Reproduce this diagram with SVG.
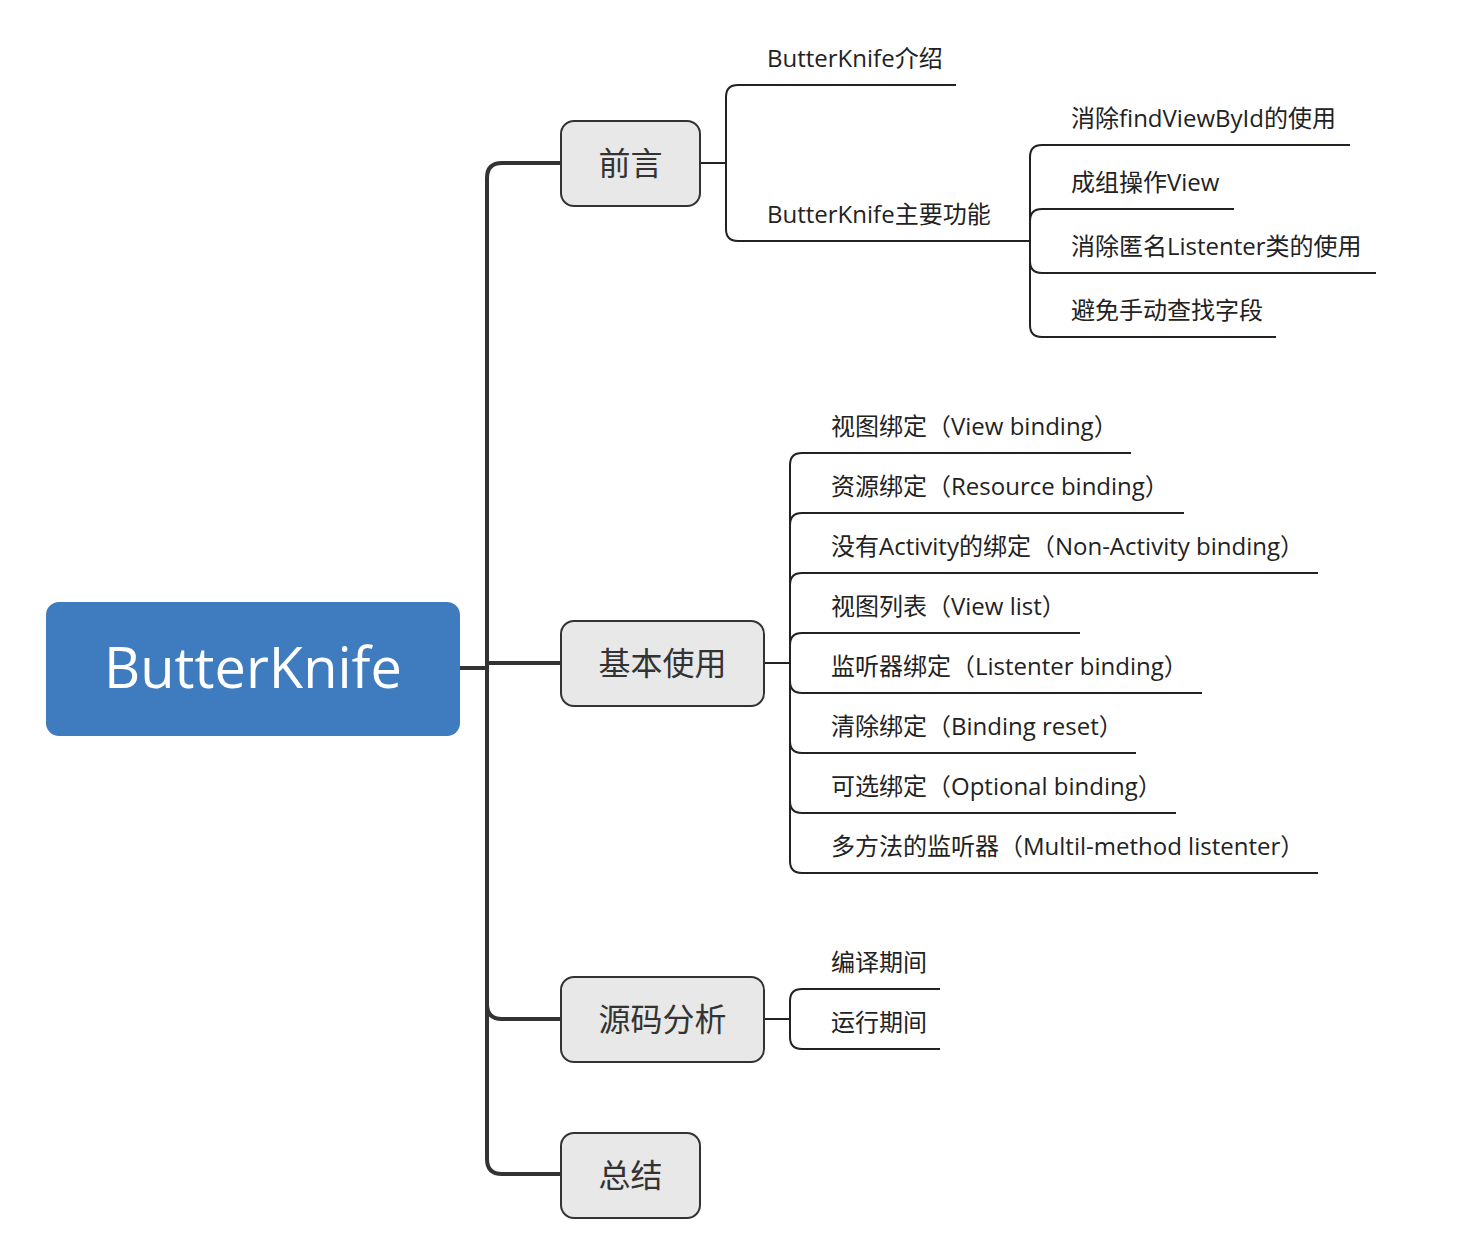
<svg xmlns="http://www.w3.org/2000/svg" width="1468" height="1242" viewBox="0 0 1468 1242">
<style>
.trunk{fill:none;stroke:#333;stroke-width:4;stroke-linejoin:round}
.leaf{fill:none;stroke:#222;stroke-width:2}
.box{fill:#E8E8E8;stroke:#333;stroke-width:2}
.bt{font-family:"Open Sans","Noto Sans CJK SC",sans-serif;font-size:32px;fill:#333;text-anchor:middle}
.lt{font-family:"Open Sans","Noto Sans CJK SC",sans-serif;font-size:24px;fill:#222}
</style>
<rect width="1468" height="1242" fill="#fff"/>
<g id="connectors">
<path class="trunk" d="M460,668 H487"/>
<path class="trunk" d="M487,668 V178 Q487,163 502,163 H561"/>
<path class="trunk" d="M487,663 H561"/>
<path class="trunk" d="M487,668 V1004 Q487,1019 502,1019 H561"/>
<path class="trunk" d="M487,668 V1159 Q487,1174 502,1174 H561"/>
<path class="leaf" d="M700,163 H726"/>
<path class="leaf" d="M726,163 V97 Q726,85 738,85 H956"/>
<path class="leaf" d="M726,163 V229 Q726,241 738,241 H1030"/>
<path class="leaf" d="M1030,241 V157 Q1030,145 1042,145 H1350"/>
<path class="leaf" d="M1030,241 V221 Q1030,209 1042,209 H1234"/>
<path class="leaf" d="M1030,241 V261 Q1030,273 1042,273 H1376"/>
<path class="leaf" d="M1030,241 V325 Q1030,337 1042,337 H1276"/>
<path class="leaf" d="M764,663 H790"/>
<path class="leaf" d="M790,663 V465 Q790,453 802,453 H1131"/>
<path class="leaf" d="M790,663 V525 Q790,513 802,513 H1184"/>
<path class="leaf" d="M790,663 V585 Q790,573 802,573 H1318"/>
<path class="leaf" d="M790,663 V645 Q790,633 802,633 H1080"/>
<path class="leaf" d="M790,663 V681 Q790,693 802,693 H1202"/>
<path class="leaf" d="M790,663 V741 Q790,753 802,753 H1136"/>
<path class="leaf" d="M790,663 V801 Q790,813 802,813 H1176"/>
<path class="leaf" d="M790,663 V861 Q790,873 802,873 H1318"/>
<path class="leaf" d="M764,1019 H790"/>
<path class="leaf" d="M790,1019 V1001 Q790,989 802,989 H940"/>
<path class="leaf" d="M790,1019 V1037 Q790,1049 802,1049 H940"/>
</g>
<g id="root">
<rect x="46" y="602" width="414" height="134" rx="13" fill="#3F7BBF"/>
<text x="253" y="688" font-family="'Open Sans',sans-serif" font-size="56" fill="#fff" text-anchor="middle">ButterKnife</text>
</g>
<g id="n-qianyan"><rect class="box" x="561" y="121" width="139" height="85" rx="13"/><text class="bt" x="630.5" y="175">前言</text></g>
<g id="n-jiben"><rect class="box" x="561" y="621" width="203" height="85" rx="13"/><text class="bt" x="662.5" y="675">基本使用</text></g>
<g id="n-yuanma"><rect class="box" x="561" y="977" width="203" height="85" rx="13"/><text class="bt" x="662.5" y="1031">源码分析</text></g>
<g id="n-zongjie"><rect class="box" x="561" y="1133" width="139" height="85" rx="13"/><text class="bt" x="630.5" y="1187">总结</text></g>
<g id="n-intro"><text class="lt" x="767" y="67">ButterKnife介绍</text></g>
<g id="n-func"><text class="lt" x="767" y="223">ButterKnife主要功能</text></g>
<g id="n-f1"><text class="lt" x="1071" y="127">消除findViewById的使用</text></g>
<g id="n-f2"><text class="lt" x="1071" y="191">成组操作View</text></g>
<g id="n-f3"><text class="lt" x="1071" y="255">消除匿名Listenter类的使用</text></g>
<g id="n-f4"><text class="lt" x="1071" y="319">避免手动查找字段</text></g>
<g id="n-b1"><text class="lt" x="831" y="435">视图绑定（View binding）</text></g>
<g id="n-b2"><text class="lt" x="831" y="495">资源绑定（Resource binding）</text></g>
<g id="n-b3"><text class="lt" x="831" y="555">没有Activity的绑定（Non-Activity binding）</text></g>
<g id="n-b4"><text class="lt" x="831" y="615">视图列表（View list）</text></g>
<g id="n-b5"><text class="lt" x="831" y="675">监听器绑定（Listenter binding）</text></g>
<g id="n-b6"><text class="lt" x="831" y="735">清除绑定（Binding reset）</text></g>
<g id="n-b7"><text class="lt" x="831" y="795">可选绑定（Optional binding）</text></g>
<g id="n-b8"><text class="lt" x="831" y="855">多方法的监听器（Multil-method listenter）</text></g>
<g id="n-s1"><text class="lt" x="831" y="971">编译期间</text></g>
<g id="n-s2"><text class="lt" x="831" y="1031">运行期间</text></g>
</svg>
